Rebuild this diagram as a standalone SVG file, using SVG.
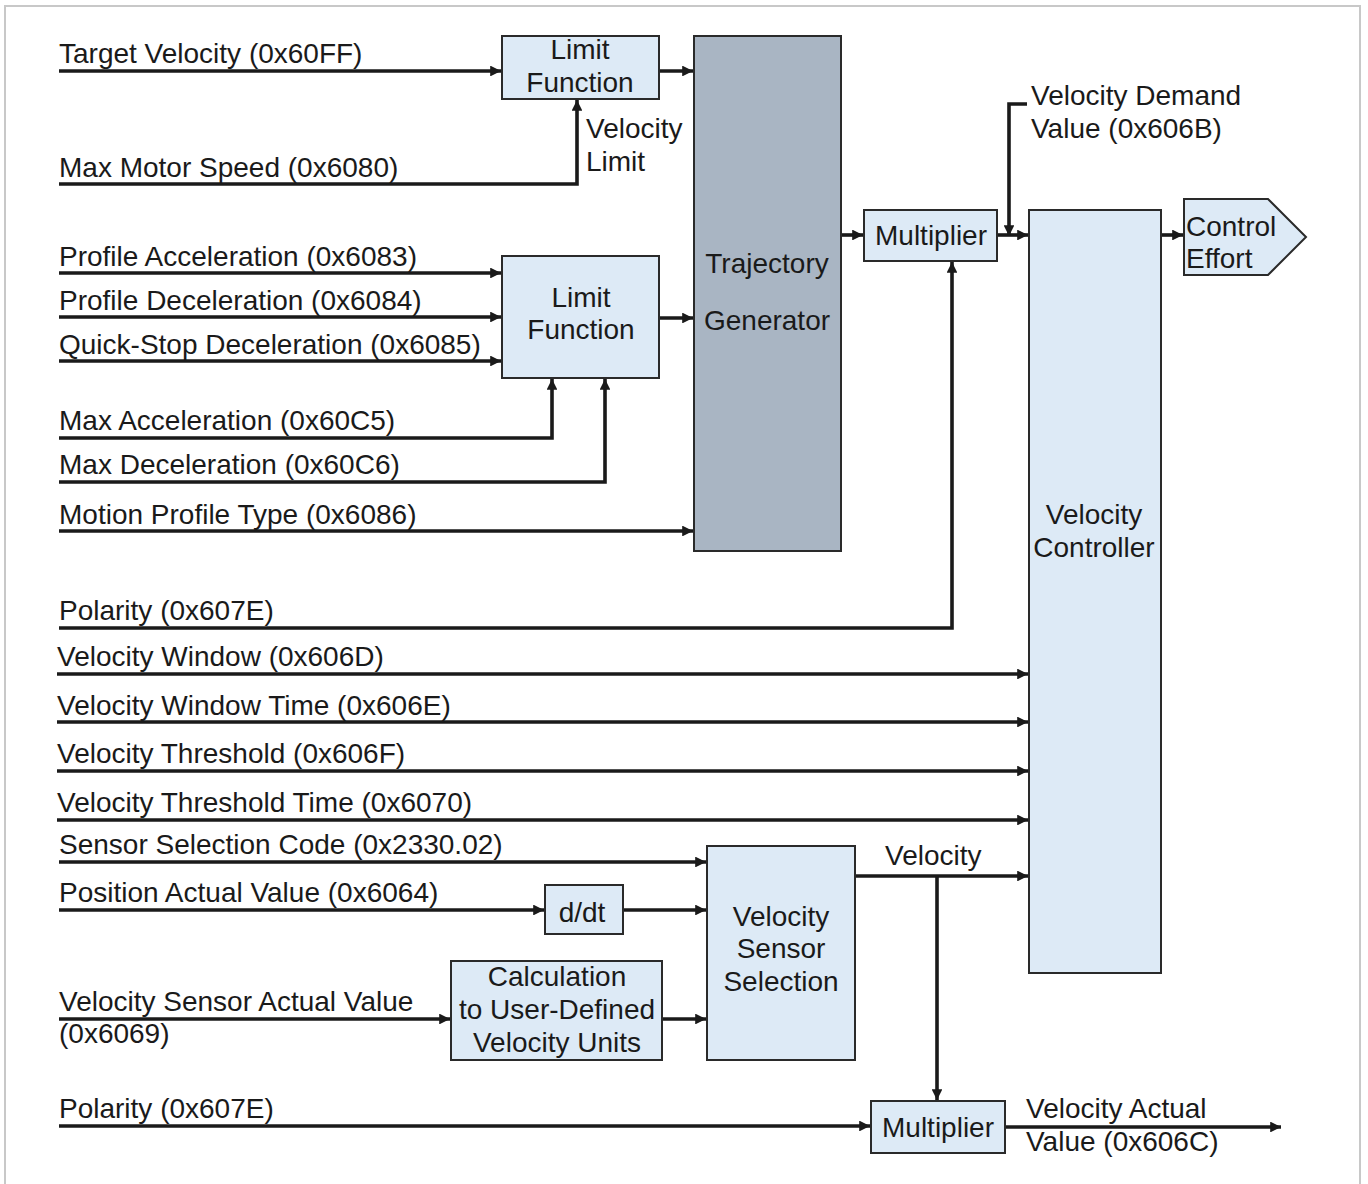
<svg xmlns="http://www.w3.org/2000/svg" width="1368" height="1184" viewBox="0 0 1368 1184">
  <defs>
    <marker id="arr" viewBox="0 0 10 10" refX="10" refY="5" markerWidth="3" markerHeight="3" markerUnits="strokeWidth" orient="auto">
      <path d="M0,0 L10,5 L0,10 z" fill="#1a1a1a"/>
    </marker>
    <style>
      text { font-family: "Liberation Sans", Arial, sans-serif; font-size: 28px; fill: #1a1a1a; }
      .c { text-anchor: middle; }
      .box { fill: #ddeaf6; stroke: #2a2a2a; stroke-width: 2; }
      .dark { fill: #a9b5c3; stroke: #2a2a2a; stroke-width: 2; }
      .la { fill: none; stroke: #1a1a1a; stroke-width: 3.6; marker-end: url(#arr); }
    </style>
  </defs>

  <rect width="1368" height="1184" fill="#ffffff"/>
  <rect x="5" y="6" width="1355" height="1200" fill="none" stroke="#c8c8c8" stroke-width="2"/>

  <!-- signal lines -->
  <g id="connectors">
    <path class="la" d="M59,71 H501"/>
    <path class="la" d="M659,71 H693"/>
    <path class="la" d="M59,184 H577 V100"/>
    <path class="la" d="M59,273 H501"/>
    <path class="la" d="M59,317 H501"/>
    <path class="la" d="M59,361 H501"/>
    <path class="la" d="M59,438 H552 V379"/>
    <path class="la" d="M59,482 H605 V379"/>
    <path class="la" d="M59,531 H693"/>
    <path class="la" d="M659,318 H693"/>
    <path class="la" d="M841,235 H863"/>
    <path class="la" d="M997,235 H1028"/>
    <path class="la" d="M1027,104 H1009 V236"/>
    <path class="la" d="M1161,235 H1183"/>
    <path class="la" d="M59,628 H952 V262"/>
    <path class="la" d="M57,674 H1028"/>
    <path class="la" d="M57,722 H1028"/>
    <path class="la" d="M57,771 H1028"/>
    <path class="la" d="M57,820 H1028"/>
    <path class="la" d="M59,862 H706"/>
    <path class="la" d="M59,910 H544"/>
    <path class="la" d="M623,910 H706"/>
    <path class="la" d="M59,1019 H450"/>
    <path class="la" d="M662,1019 H706"/>
    <path class="la" d="M855,876 H1028"/>
    <path class="la" d="M937,876 V1100"/>
    <path class="la" d="M59,1126 H870"/>
    <path class="la" d="M1005,1127 H1281"/>
  </g>

  <!-- input / output labels -->
  <g id="labels">
    <text x="59" y="63">Target Velocity (0x60FF)</text>
    <text x="59" y="177">Max Motor Speed (0x6080)</text>
    <text x="586" y="138">Velocity</text>
    <text x="586" y="171">Limit</text>
    <text x="59" y="266">Profile Acceleration (0x6083)</text>
    <text x="59" y="310">Profile Deceleration (0x6084)</text>
    <text x="59" y="354">Quick-Stop Deceleration (0x6085)</text>
    <text x="59" y="430">Max Acceleration (0x60C5)</text>
    <text x="59" y="474">Max Deceleration (0x60C6)</text>
    <text x="59" y="524">Motion Profile Type (0x6086)</text>
    <text x="1031" y="105">Velocity Demand</text>
    <text x="1031" y="138">Value (0x606B)</text>
    <text x="59" y="620">Polarity (0x607E)</text>
    <text x="57" y="666">Velocity Window (0x606D)</text>
    <text x="57" y="715">Velocity Window Time (0x606E)</text>
    <text x="57" y="763">Velocity Threshold (0x606F)</text>
    <text x="57" y="812">Velocity Threshold Time (0x6070)</text>
    <text x="59" y="854">Sensor Selection Code (0x2330.02)</text>
    <text x="59" y="902">Position Actual Value (0x6064)</text>
    <text x="59" y="1011">Velocity Sensor Actual Value</text>
    <text x="59" y="1043">(0x6069)</text>
    <text x="885" y="865">Velocity</text>
    <text x="59" y="1118">Polarity (0x607E)</text>
    <text x="1026" y="1118">Velocity Actual</text>
    <text x="1026" y="1151">Value (0x606C)</text>
  </g>

  <g id="limit-velocity">
    <rect class="box" x="502" y="36" width="157" height="63"/>
    <text class="c" x="580" y="59">Limit</text>
    <text class="c" x="580" y="92">Function</text>
  </g>

  <g id="limit-accel">
    <rect class="box" x="502" y="256" width="157" height="122"/>
    <text class="c" x="581" y="307">Limit</text>
    <text class="c" x="581" y="339">Function</text>
  </g>

  <g id="trajectory-generator">
    <rect class="dark" x="694" y="36" width="147" height="515"/>
    <text class="c" x="767" y="273">Trajectory</text>
    <text class="c" x="767" y="330">Generator</text>
  </g>

  <g id="multiplier-demand">
    <rect class="box" x="864" y="210" width="133" height="51"/>
    <text class="c" x="931" y="245">Multiplier</text>
  </g>

  <g id="velocity-controller">
    <rect class="box" x="1029" y="210" width="132" height="763"/>
    <text class="c" x="1094" y="524">Velocity</text>
    <text class="c" x="1094" y="557">Controller</text>
  </g>

  <g id="control-effort">
    <path class="box" d="M1184,199 H1268 L1306,237 L1268,275 H1184 Z"/>
    <text x="1186" y="236">Control</text>
    <text x="1186" y="268">Effort</text>
  </g>

  <g id="ddt">
    <rect class="box" x="545" y="885" width="78" height="49"/>
    <text class="c" x="582" y="922">d/dt</text>
  </g>

  <g id="unit-calculation">
    <rect class="box" x="451" y="961" width="211" height="99"/>
    <text class="c" x="557" y="986">Calculation</text>
    <text class="c" x="557" y="1019">to User-Defined</text>
    <text class="c" x="557" y="1052">Velocity Units</text>
  </g>

  <g id="sensor-selection">
    <rect class="box" x="707" y="846" width="148" height="214"/>
    <text class="c" x="781" y="926">Velocity</text>
    <text class="c" x="781" y="958">Sensor</text>
    <text class="c" x="781" y="991">Selection</text>
  </g>

  <g id="multiplier-actual">
    <rect class="box" x="871" y="1101" width="134" height="52"/>
    <text class="c" x="938" y="1137">Multiplier</text>
  </g>
</svg>
